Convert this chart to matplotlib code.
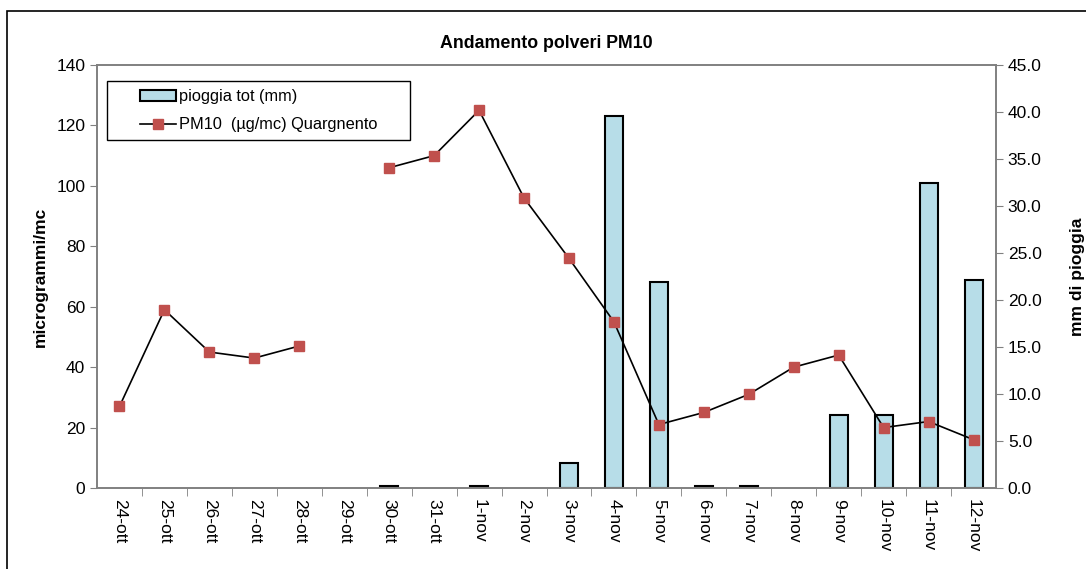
import matplotlib
matplotlib.use("Agg")
import matplotlib.pyplot as plt
import numpy as np
from matplotlib.patches import Rectangle

plt.rcParams['font.family'] = ['Liberation Sans', 'DejaVu Sans']

dates = ["24-ott", "25-ott", "26-ott", "27-ott", "28-ott", "29-ott", "30-ott", "31-ott",
         "1-nov", "2-nov", "3-nov", "4-nov", "5-nov", "6-nov", "7-nov", "8-nov",
         "9-nov", "10-nov", "11-nov", "12-nov"]
pm10 = [27, 59, 45, 43, 47, np.nan, 106, 110, 125, 96, 76, 55, 21, 25, 31, 40, 44, 20, 22, 16]
pioggia = [0, 0, 0, 0, 0, 0, 0.2, 0, 0.2, 0, 2.7, 39.6, 21.9, 0.2, 0.2, 0, 7.8, 7.8, 32.5, 22.1]

W, H = 1086, 569
fig = plt.figure(figsize=(W / 100, H / 100), dpi=100)
fig.patches.append(Rectangle((7 / W, -0.1), 1.2, 1 - 11 / H + 0.1, transform=fig.transFigure,
                             fill=False, edgecolor='black', linewidth=1.2))

ax = fig.add_axes([97 / W, 1 - 488 / H, (996 - 97) / W, (488 - 65) / H])
ax2 = ax.twinx()
x = np.arange(len(dates))
rain = np.array(pioggia)
has_rain = rain > 0

ax2.bar(x[has_rain], rain[has_rain], width=0.4, color='#b7dde8', edgecolor='black',
        linewidth=1.5, zorder=2, label='pioggia tot (mm)')
ax2.set_ylim(0, 45)
ax2.set_yticks(np.arange(0, 46, 5))
ax2.set_yticklabels([f"{v:.1f}" for v in np.arange(0, 46, 5)], fontsize=12.5)
ax2.set_ylabel("mm di pioggia", fontsize=12.5, fontweight='bold', labelpad=20)

ax.set_zorder(ax2.get_zorder() + 1)
ax.patch.set_visible(False)
ln, = ax.plot(x, pm10, color='black', linewidth=1.2, marker='s', markersize=7,
              markerfacecolor='#c0504d', markeredgecolor='#c0504d',
              label='PM10  (µg/mc) Quargnento')
ax.set_ylim(0, 140)
ax.set_yticks(np.arange(0, 141, 20))
ax.tick_params(axis='y', labelsize=12.5)
ax.set_ylabel("microgrammi/mc", fontsize=12.5, fontweight='bold', labelpad=6)
ax.set_xlim(-0.5, len(dates) - 0.5)
ax.set_xticks(x)
ax.set_xticklabels(dates, rotation=-90, fontsize=12.5)
ax.tick_params(axis='x', which='major', length=0, pad=8)
ax.set_xticks(np.arange(0.5, len(dates) - 0.5, 1), minor=True)
ax.tick_params(axis='x', which='minor', length=6, color='#808080', direction='out')
ax.tick_params(axis='y', length=5, color='#808080')
ax2.tick_params(axis='y', length=5, color='#808080')

for a in (ax, ax2):
    for s in a.spines.values():
        s.set_color('#808080')
        s.set_linewidth(1.2)

ax.set_title("Andamento polveri PM10", fontsize=12.8, fontweight='bold', pad=12)

bars_handle = Rectangle((0, 0), 1, 1, facecolor='#b7dde8', edgecolor='black', linewidth=1.5)
leg = ax.legend([bars_handle, ln], ['pioggia tot (mm)', 'PM10  (µg/mc) Quargnento'],
                loc='upper left', bbox_to_anchor=(140 / W, 1 - 89 / H),
                bbox_transform=fig.transFigure, fontsize=11.8, frameon=False,
                borderpad=0, handlelength=2.2, handletextpad=0.15, labelspacing=0.82,
                borderaxespad=0)
frame = Rectangle((107 / W, 1 - 140 / H), 303 / W, 59 / H, transform=fig.transFigure,
                  fill=True, facecolor='white', edgecolor='black', linewidth=1.0)
frame.set_zorder(-1)
fig.patches.append(frame)

fig.savefig("out.png", dpi=100)
